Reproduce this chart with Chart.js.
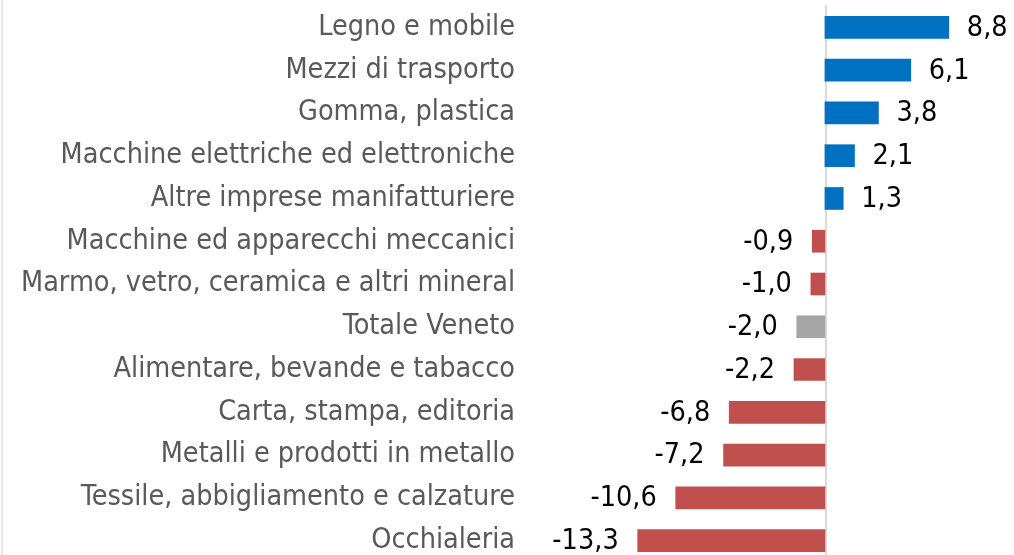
<!DOCTYPE html>
<html>
<head>
<meta charset="utf-8">
<script src="https://cdn.jsdelivr.net/npm/chart.js@4"></script>
<style>
html,body{margin:0;padding:0;background:#fff;overflow:hidden;width:1014px;height:555px;}
#wrap{position:relative;width:1014px;height:562px;}
</style>
</head>
<body>
<div id="wrap"><canvas id="c" width="1014" height="562"></canvas></div>
<script>
const categories = [
  "Legno e mobile",
  "Mezzi di trasporto",
  "Gomma, plastica",
  "Macchine elettriche ed elettroniche",
  "Altre imprese manifatturiere",
  "Macchine ed apparecchi meccanici",
  "Marmo, vetro, ceramica e altri mineral",
  "Totale Veneto",
  "Alimentare, bevande e tabacco",
  "Carta, stampa, editoria",
  "Metalli e prodotti in metallo",
  "Tessile, abbigliamento e calzature",
  "Occhialeria"
];
const values = [8.8, 6.1, 3.8, 2.1, 1.3, -0.9, -1.0, -2.0, -2.2, -6.8, -7.2, -10.6, -13.3];
const totalLabel = "Totale Veneto";

const BLUE = "#0070C0", RED = "#C0504D", GREY = "#A5A5A5";
const FONT = "'DejaVu Sans Condensed', 'DejaVu Sans', sans-serif";
const colors = categories.map((c, i) => c === totalLabel ? GREY : (values[i] >= 0 ? BLUE : RED));
const fmt = v => v.toFixed(1).replace('.', ',');

const extras = {
  id: 'extras',
  beforeDatasetsDraw(chart) {
    const ctx = chart.ctx, x = chart.scales.x;
    const zx = x.getPixelForValue(0);
    ctx.save();
    ctx.strokeStyle = '#D9D9D9';
    ctx.lineWidth = 2;
    ctx.beginPath();
    ctx.moveTo(zx + 1, 5); ctx.lineTo(zx + 1, chart.height);
    ctx.stroke();
    ctx.beginPath();
    ctx.moveTo(2, 0); ctx.lineTo(2, chart.height);
    ctx.strokeStyle = '#E6E6E6';
    ctx.stroke();
    ctx.restore();
  },
  afterDatasetsDraw(chart) {
    const ctx = chart.ctx;
    const meta = chart.getDatasetMeta(0);
    ctx.save();
    ctx.font = "28.5px " + FONT;
    ctx.fillStyle = '#000';
    ctx.textBaseline = 'middle';
    meta.data.forEach((bar, i) => {
      const v = values[i];
      if (v >= 0) {
        ctx.textAlign = 'left';
        ctx.fillText(fmt(v), bar.x + 18, bar.y + 1);
      } else {
        ctx.textAlign = 'right';
        ctx.fillText(fmt(v), bar.x - 19, bar.y + 1);
      }
    });
    ctx.restore();
  }
};

new Chart(document.getElementById('c'), {
  type: 'bar',
  data: {
    labels: categories,
    datasets: [{
      data: values,
      backgroundColor: colors,
      borderWidth: 0,
      barThickness: 22
    }]
  },
  options: {
    indexAxis: 'y',
    responsive: false,
    animation: false,
    layout: { padding: { top: 6, right: 0, bottom: 0, left: 0 } },
    plugins: { legend: { display: false }, tooltip: { enabled: false } },
    scales: {
      x: {
        display: false,
        min: -21.66,
        max: 13.43
      },
      y: {
        grid: { display: false, drawTicks: false },
        border: { display: false },
        ticks: {
          color: '#595959',
          font: { family: FONT, size: 28.5 },
          padding: 5,
          autoSkip: false
        },
        afterFit(scale) { scale.width = 520; scale.paddingTop = 0; scale.paddingBottom = 0; }
      }
    }
  },
  plugins: [extras]
});
</script>
</body>
</html>
